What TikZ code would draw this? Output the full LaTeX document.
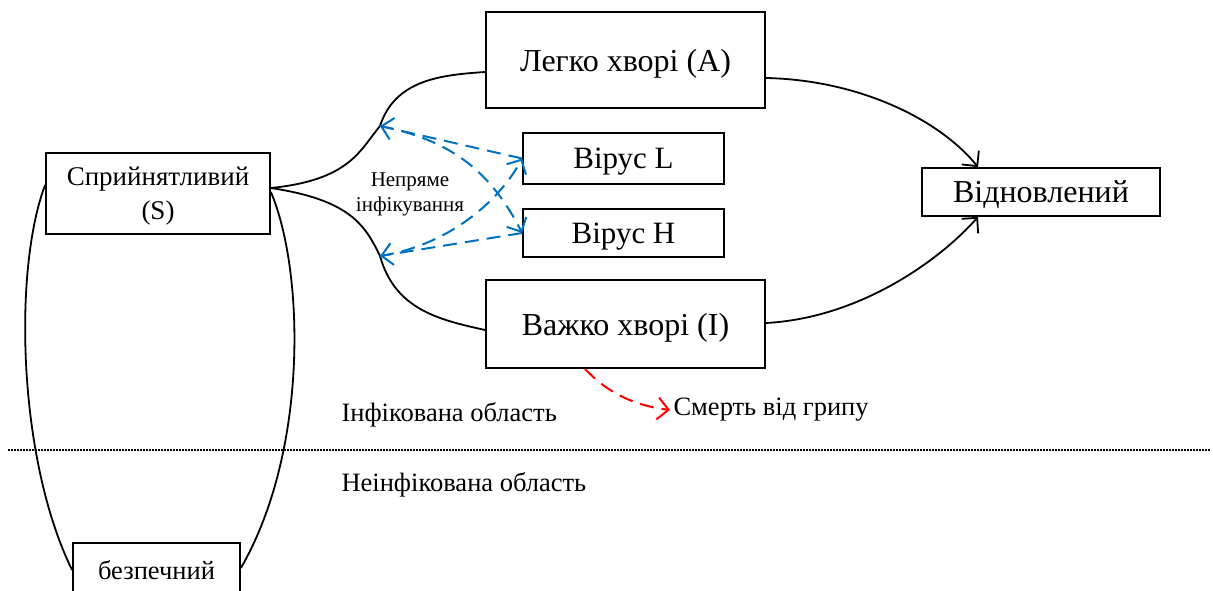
\documentclass[tikz,border=0pt]{standalone}
\usepackage{fontspec}
\setmainfont{Liberation Serif}
\usepackage{xcolor}
\definecolor{flublue}{RGB}{0,112,192}
\definecolor{flured}{RGB}{255,0,0}
\usetikzlibrary{arrows.meta, positioning, calc}

\tikzset{
  state/.style={draw, line width=1.8pt, fill=white, align=center, inner sep=0pt, text depth=0pt},
  link/.style={line width=1.8pt},
  spread/.style={flublue, line width=2pt, dash pattern=on 14pt off 8pt,
                 -{Straight Barb[length=11pt,width=22pt,line width=2pt]}},
}

\begin{document}
\begin{tikzpicture}[x=1pt, y=-1pt]
  \useasboundingbox (0,0) rectangle (1213,591);
  % compartments of the infected area
  \node[state, minimum width=279pt, minimum height=96pt, font=\fontsize{32}{36}\selectfont]
        (mild) at (625.5,60) {Легко хворі (А)};
  \node[state, minimum width=201pt, minimum height=51pt, font=\fontsize{31}{34}\selectfont]
        (virL) at (623.5,158.5) {Вірус L};
  \node[state, minimum width=201pt, minimum height=48pt, font=\fontsize{31}{34}\selectfont]
        (virH) at (623.5,233) {Вірус H};
  \node[state, minimum width=279pt, minimum height=88pt, font=\fontsize{32}{36}\selectfont]
        (sev) at (625.5,324) {Важко хворі (І)};
  \node[state, minimum width=238pt, minimum height=48pt, font=\fontsize{32}{36}\selectfont]
        (rec) at (1041,192) {Відновлений};
  \node[state, minimum width=224pt, minimum height=81pt, font=\fontsize{27}{34}\selectfont]
        (sus) at (158,193.5) {Сприйнятливий\\(S)};
  \node[state, minimum width=167pt, minimum height=54pt, font=\fontsize{26.5}{30}\selectfont]
        (safe) at (156.5,570) {безпечний};
  % free labels
  \node[font=\fontsize{21}{25}\selectfont, align=center] (indir) at (410,194)
        {Непряме\\інфікування};
  \node[font=\fontsize{26.5}{30}\selectfont, anchor=west] (death) at (670,410) {Смерть від грипу};
  \node[font=\fontsize{26.5}{30}\selectfont, anchor=west] (infz) at (338,415) {Інфікована область};
  \node[font=\fontsize{26.5}{30}\selectfont, anchor=west] (clean) at (338,485) {Неінфікована область};
  % meeting points on the infection paths
  \coordinate (jmild) at (380,126);
  \coordinate (jsev) at (380,256);
  \coordinate (ln0) at (8,450);
  \coordinate (ln1) at (1210,450);
  % border between the areas
  \draw[line width=1.5pt, dash pattern=on 1.5pt off 1.5pt] (ln0) -- (ln1);
  % infection paths
  \draw[link] (sus.east |- 0,188) .. controls (350,180) and (360,150) .. (jmild)
        .. controls (395,80) and (440,75) .. (mild.west |- 0,72);
  \draw[link] (sus.east |- 0,188) .. controls (350,200) and (365,225) .. (jsev)
        .. controls (395,310) and (440,320) .. (sev.west |- 0,330);
  % recovery
  \draw[link, -{Straight Barb[length=11pt,width=22pt,line width=1.8pt]}]
        (mild.east |- 0,78) .. controls (860,80) and (940,120) .. (rec.north west -| 978,0);
  \draw[link, -{Straight Barb[length=11pt,width=22pt,line width=1.8pt]}]
        (sev.east |- 0,323) .. controls (860,318) and (940,260) .. (rec.south west -| 978,0);
  % virus spreading
  \draw[spread] (virL.west) -- (jmild);
  \draw[spread] (virH.west) -- (jsev);
  \draw[spread] (jmild) .. controls (450,140) and (490,170) .. (virH.west);
  \draw[spread] (jsev) .. controls (450,245) and (500,200) .. (virL.west);
  % death
  \draw[flured, line width=2pt, dash pattern=on 14pt off 8pt,
        -{Straight Barb[length=11pt,width=22pt,line width=2pt]}]
        (sev.south -| 585,0) .. controls (605,390) and (630,405) .. (death.west);
  % uninfected loop
  \draw[link] (sus.west |- 0,185) .. controls (13,270) and (18,460) .. (safe.west |- 0,570);
  \draw[link] (sus.east |- 0,192) .. controls (304,270) and (309,450) .. (safe.east |- 0,568);
\end{tikzpicture}
\end{document}
